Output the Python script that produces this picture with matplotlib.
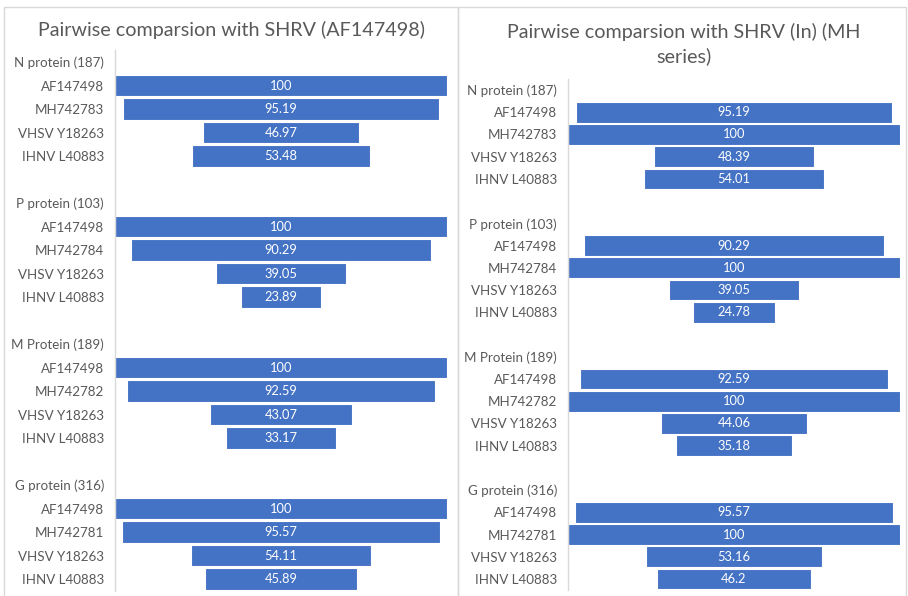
import matplotlib
matplotlib.use("Agg")
import matplotlib.pyplot as plt
from matplotlib.patches import Rectangle

plt.rcParams['font.family'] = ['Lato', 'DejaVu Sans']

# Protein groups (header label) and the sequences compared inside each group
groups = ["N protein (187)", "P protein (103)", "M Protein (189)", "G protein (316)"]

left_seqs = [
    ["AF147498", "MH742783", "VHSV Y18263", "IHNV L40883"],
    ["AF147498", "MH742784", "VHSV Y18263", "IHNV L40883"],
    ["AF147498", "MH742782", "VHSV Y18263", "IHNV L40883"],
    ["AF147498", "MH742781", "VHSV Y18263", "IHNV L40883"],
]
left_vals = [
    [100, 95.19, 46.97, 53.48],
    [100, 90.29, 39.05, 23.89],
    [100, 92.59, 43.07, 33.17],
    [100, 95.57, 54.11, 45.89],
]

right_seqs = left_seqs
right_vals = [
    [95.19, 100, 48.39, 54.01],
    [90.29, 100, 39.05, 24.78],
    [92.59, 100, 44.06, 35.18],
    [95.57, 100, 53.16, 46.2],
]

left_title = "Pairwise comparsion with SHRV (AF147498)"
right_title = "Pairwise comparsion with SHRV (In) (MH\nseries)"

BAR = "#4472C4"
GREY = "#595959"
W, H = 908, 596


def build_rows(seqs, vals):
    labels, values = [], []
    for gi, g in enumerate(groups):
        labels.append(g)
        values.append(None)
        for s, v in zip(seqs[gi], vals[gi]):
            labels.append(s)
            values.append(v)
        if gi < len(groups) - 1:
            labels.append("")
            values.append(None)
    return labels, values


def funnel(ax, seqs, vals):
    labels, values = build_rows(seqs, vals)
    n = len(labels)
    for i, v in enumerate(values):
        if v is None:
            continue
        ax.barh(i, v, left=(100 - v) / 2, height=0.93, color=BAR,
                edgecolor="white", linewidth=0.8)
        ax.text(50, i, f"{v:g}", ha="center", va="center",
                color="white", fontsize=9.3)
    ax.set_xlim(0, 100)
    ax.set_ylim(n - 0.5, -0.5)
    ax.set_yticks(range(n))
    ax.set_yticklabels(labels, fontsize=9.6, color=GREY)
    ax.tick_params(axis="y", length=0, pad=8)
    ax.set_xticks([])
    for side in ("top", "right", "bottom"):
        ax.spines[side].set_visible(False)
    ax.spines["left"].set_color("#D9D9D9")
    ax.spines["left"].set_linewidth(1.0)


fig = plt.figure(figsize=(W / 100, H / 100), dpi=100)


def px_axes(x0, x1, y0, y1):
    return fig.add_axes([x0 / W, 1 - y1 / H, (x1 - x0) / W, (y1 - y0) / H])


# panel frames
for x0, x1 in ((4, 458), (458, 906)):
    fig.add_artist(Rectangle((x0 / W, -0.05), (x1 - x0) / W, 1.05 - 7 / H,
                             transform=fig.transFigure, fill=False,
                             edgecolor="#D9D9D9", linewidth=1.0))

axL = px_axes(115, 447, 50.3, 590.8)
funnel(axL, left_seqs, left_vals)
fig.text(232 / W, 1 - 30 / H, left_title, ha="center", va="center",
         fontsize=14.2, color=GREY)

axR = px_axes(568, 900, 78.9, 590.1)
funnel(axR, right_seqs, right_vals)
fig.text(684 / W, 1 - 44 / H, right_title, ha="center", va="center",
         fontsize=14.2, color=GREY, linespacing=1.45)

fig.savefig("out.png", dpi=100)
